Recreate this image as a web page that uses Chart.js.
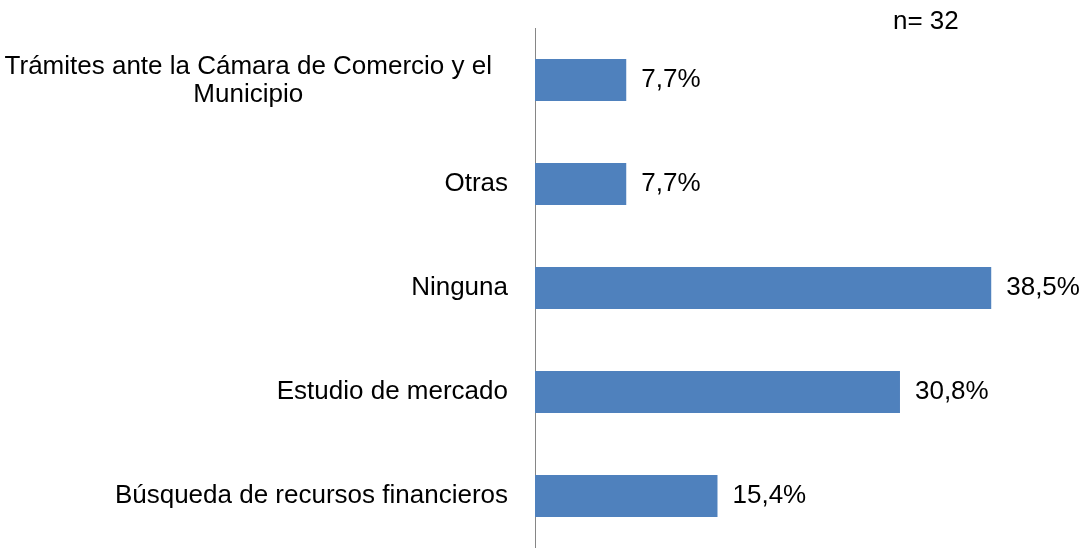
<!DOCTYPE html>
<html>
<head>
<meta charset="utf-8">
<script src="https://cdn.jsdelivr.net/npm/chart.js@4"></script>
<style>
  html, body { margin: 0; padding: 0; background: #ffffff; }
  #wrap { width: 1088px; height: 548px; position: relative; }
</style>
</head>
<body>
<div id="wrap"><canvas id="c" width="1088" height="548"></canvas></div>
<script>
const categories = [
  ["Trámites ante la Cámara de Comercio y el", "Municipio"],
  ["Otras"],
  ["Ninguna"],
  ["Estudio de mercado"],
  ["Búsqueda de recursos financieros"]
];
const values = [7.7, 7.7, 38.5, 30.8, 15.4];
const valueLabels = ["7,7%", "7,7%", "38,5%", "30,8%", "15,4%"];
const sampleNote = "n= 32";

const FONT = '"Liberation Sans", Arial, sans-serif';
const FSIZE = 26;

const labelPlugin = {
  id: 'customLabels',
  afterDraw(chart) {
    const ctx = chart.ctx;
    const yScale = chart.scales.y;
    const meta = chart.getDatasetMeta(0);
    ctx.save();
    ctx.font = FSIZE + 'px ' + FONT;
    ctx.fillStyle = '#000000';
    ctx.textBaseline = 'middle';
    categories.forEach((lines, i) => {
      const yc = yScale.getPixelForValue(i);
      if (lines.length === 1) {
        ctx.textAlign = 'right';
        ctx.fillText(lines[0], 508, yc);
      } else {
        const lh = 28;
        const w0 = ctx.measureText(lines[0]).width;
        const right = 492;
        const center = right - w0 / 2;
        const top = yc - (lines.length - 1) * lh / 2 + 1;
        lines.forEach((ln, k) => {
          ctx.textAlign = k === 0 ? 'right' : 'center';
          ctx.fillText(ln, k === 0 ? right : center, top + k * lh);
        });
      }
    });
    ctx.textAlign = 'left';
    meta.data.forEach((bar, i) => {
      ctx.fillText(valueLabels[i], bar.x + 15, bar.y);
    });
    ctx.fillText(sampleNote, 893, 22);
    ctx.restore();
  }
};

new Chart(document.getElementById('c'), {
  type: 'bar',
  data: {
    labels: categories.map(l => l.join(' ')),
    datasets: [{
      data: values,
      backgroundColor: '#4F81BD',
      borderWidth: 0,
      categoryPercentage: 1,
      barPercentage: 0.404
    }]
  },
  options: {
    indexAxis: 'y',
    responsive: false,
    animation: false,
    devicePixelRatio: 1,
    layout: { padding: { top: 28, bottom: 0, left: 0, right: 79 } },
    plugins: {
      legend: { display: false },
      tooltip: { enabled: false },
      title: { display: false }
    },
    scales: {
      x: {
        display: false,
        min: 0,
        max: 40
      },
      y: {
        grid: { display: false },
        border: { display: true, color: '#868686', width: 1 },
        ticks: { display: false },
        afterFit(scale) { scale.width = 535; }
      }
    }
  },
  plugins: [labelPlugin]
});
</script>
</body>
</html>
